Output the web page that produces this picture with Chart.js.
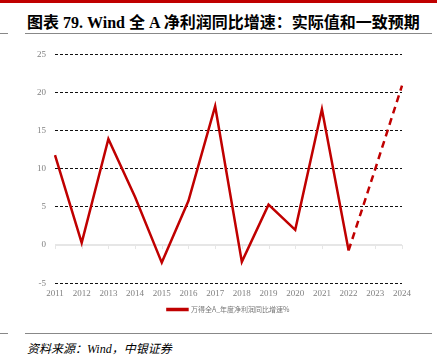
<!DOCTYPE html>
<html>
<head>
<meta charset="utf-8">
<script src="https://cdn.jsdelivr.net/npm/chart.js@4"></script>
<style>
  html, body { margin: 0; padding: 0; background: #fff; }
  body { width: 448px; height: 362px; position: relative; overflow: hidden; }
  .topbar { position: absolute; left: 0; top: 0; width: 437px; height: 3px; background: #c00000; }
  .title { position: absolute; left: 27px; top: 9px; font: bold 16px "Liberation Serif", "Noto Sans CJK SC", serif; color: #000; white-space: nowrap; }
  .rule { position: absolute; height: 1px; background: #888; }
  .source { position: absolute; left: 27px; top: 339px; font: italic 12px "Liberation Serif", "Noto Sans CJK SC", serif; color: #000; white-space: nowrap; }
  .wrap { position: absolute; left: 0; top: 40px; width: 448px; height: 285px; }
</style>
</head>
<body>
<div class="topbar"></div>
<div class="title">图表 79. Wind 全 A 净利润同比增速：实际值和一致预期</div>
<div class="rule" style="left:0;top:33px;width:8px"></div>
<div class="rule" style="left:25px;top:33px;width:407px"></div>
<div class="wrap"><canvas id="chart"></canvas></div>
<div class="rule" style="left:0;top:333px;width:8px"></div>
<div class="rule" style="left:25px;top:333px;width:407px"></div>
<div class="source">资料来源：Wind，中银证券</div>
<script>
const years = ['2011', '2012', '2013', '2014', '2015', '2016', '2017', '2018', '2019', '2020', '2021', '2022', '2023', '2024'];
const actual = [11.8, 0.3, 13.9, 6.3, -2.3, 5.8, 18.2, -2.2, 5.3, 2.0, 17.8, -0.7, null, null];
const forecast = [null, null, null, null, null, null, null, null, null, null, null, -0.7, 10.0, 20.9];
const yTicks = [-5, 0, 5, 10, 15, 20, 25];

const red = '#c00000';

// solid light zero line with small tick marks under each year
const zeroLine = {
  id: 'zeroLine',
  beforeDatasetsDraw(chart) {
    const { ctx, chartArea, scales: { x, y } } = chart;
    const y0 = y.getPixelForValue(0);
    ctx.save();
    ctx.strokeStyle = '#e6e6e6';
    ctx.lineWidth = 2;
    ctx.beginPath();
    ctx.moveTo(chartArea.left, y0);
    ctx.lineTo(chartArea.right, y0);
    ctx.stroke();
    ctx.lineWidth = 1;
    ctx.beginPath();
    years.forEach((_, i) => {
      const px = Math.round(x.getPixelForValue(i)) + 0.5;
      ctx.moveTo(px, y0);
      ctx.lineTo(px, y0 + 4);
    });
    ctx.stroke();
    ctx.restore();
  }
};

// centre the legend under the plot area rather than the padded canvas
const legendShift = {
  id: 'legendShift',
  afterLayout(chart) {
    const lg = chart.legend;
    const mid = (chart.chartArea.left + chart.chartArea.right) / 2;
    const dx = mid - (lg.left + lg.right) / 2;
    lg.left += dx;
    lg.right += dx;
  }
};

new Chart(document.getElementById('chart'), {
  type: 'line',
  data: {
    labels: years,
    datasets: [
      {
        label: '万得全A_年度净利润同比增速%',
        data: actual,
        borderColor: red,
        backgroundColor: red,
        borderWidth: 2.5,
        pointRadius: 0,
        tension: 0
      },
      {
        label: 'forecast',
        data: forecast,
        borderColor: red,
        borderWidth: 2.5,
        borderDash: [7, 5],
        pointRadius: 0,
        tension: 0
      }
    ]
  },
  options: {
    responsive: true,
    maintainAspectRatio: false,
    animation: false,
    layout: { padding: { top: 9, right: 46, left: 0, bottom: 2 } },
    plugins: {
      legend: {
        position: 'bottom',
        labels: {
          filter: item => item.datasetIndex === 0,
          boxWidth: 20,
          boxHeight: 1,
          padding: 10,
          color: '#777',
          font: { family: "'Noto Sans CJK SC'", size: 7 }
        }
      },
      tooltip: { enabled: false }
    },
    scales: {
      x: {
        offset: false,
        grid: { display: false },
        border: { display: false },
        ticks: {
          color: '#808080',
          padding: -3,
          maxRotation: 0,
          font: { family: "'Liberation Serif'", size: 9 }
        }
      },
      y: {
        min: -5,
        max: 25,
        afterBuildTicks: axis => { axis.ticks = yTicks.map(v => ({ value: v })); },
        afterFit: axis => { axis.width = 55; },
        grid: {
          drawTicks: false,
          color: ctx => ctx.tick && ctx.tick.value === 0 ? 'rgba(0,0,0,0)' : '#111',
          lineWidth: 1
        },
        border: { display: false, dash: [3, 2] },
        ticks: {
          color: '#808080',
          padding: 9,
          font: { family: "'Liberation Serif'", size: 9 }
        }
      }
    }
  },
  plugins: [zeroLine, legendShift]
});
</script>
</body>
</html>
